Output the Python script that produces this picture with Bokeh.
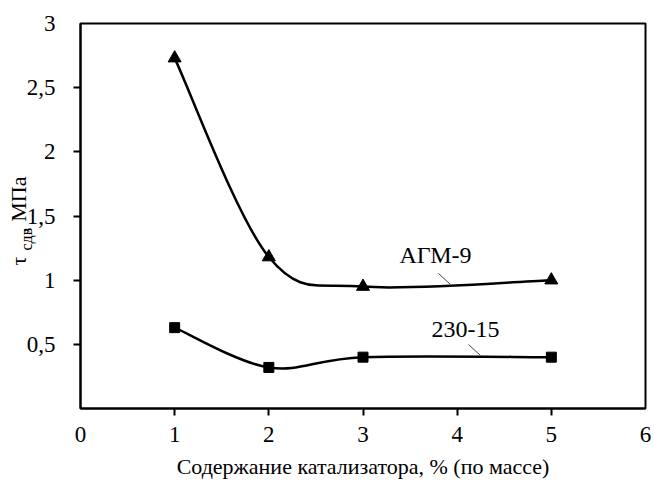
import numpy as np
from bokeh.plotting import figure
from bokeh.models import FixedTicker, CustomJSTickFormatter, Label, Range1d, Title
from bokeh.embed import file_html
from bokeh.resources import INLINE

# ---- data ----
catalyst = [1, 2, 3, 5]
agm9 = [2.73, 1.18, 0.95, 1.00]
s230_15 = [0.63, 0.32, 0.40, 0.40]
x_labels_at = [0, 1, 2, 3, 4, 5, 6]
x_tick_marks = [1, 2, 3, 4, 5]
y_labels_at = [0.5, 1.0, 1.5, 2.0, 2.5, 3.0]
y_tick_marks = [0.5, 1.0, 1.5, 2.0, 2.5]
series_names = ["АГМ-9", "230-15"]

FONT = "Liberation Serif"
FS = "23px"

ML, MR, MT, MB = 80, 9, 23, 72
FW, FH = 565, 385

p = figure(frame_width=FW, frame_height=FH, output_backend="svg",
           toolbar_location=None,
           x_range=Range1d(0, 6), y_range=Range1d(0, 3),
           min_border_left=ML, min_border_right=MR, min_border_top=MT,
           min_border_bottom=MB)
p.background_fill_color = "white"
p.border_fill_color = "white"
p.grid.visible = False
p.outline_line_color = "black"
p.outline_line_width = 2

# pixel helpers (relative to the frame) for annotation placement
sx = 6.0 / FW
sy = 3.0 / FH


def px(xs):
    return (xs - ML) * sx


def py(ys):
    return ((MT + FH) - ys) * sy


def smooth(xv, yv):
    xv = np.asarray(xv, float)
    yv = np.asarray(yv, float)
    n = len(xv)
    X = np.concatenate([[xv[0]], xv, [xv[-1]]])
    Y = np.concatenate([[yv[0]], yv, [yv[-1]]])
    d = dict(x0=[], y0=[], x1=[], y1=[], cx0=[], cy0=[], cx1=[], cy1=[])
    for i in range(n - 1):
        p0x, p0y = X[i], Y[i]
        p1x, p1y = X[i + 1], Y[i + 1]
        p2x, p2y = X[i + 2], Y[i + 2]
        p3x, p3y = X[i + 3], Y[i + 3]
        d["x0"].append(p1x); d["y0"].append(p1y)
        d["x1"].append(p2x); d["y1"].append(p2y)
        d["cx0"].append(p1x + (p2x - p0x) / 6); d["cy0"].append(p1y + (p2y - p0y) / 6)
        d["cx1"].append(p2x - (p3x - p1x) / 6); d["cy1"].append(p2y - (p3y - p1y) / 6)
    return d


for ys, mk, sz in [(agm9, "triangle", 13), (s230_15, "square", 10)]:
    d = smooth(catalyst, ys)
    p.bezier(x0=d["x0"], y0=d["y0"], x1=d["x1"], y1=d["y1"],
             cx0=d["cx0"], cy0=d["cy0"], cx1=d["cx1"], cy1=d["cy1"],
             line_color="black", line_width=2.5)
    p.scatter(catalyst, ys, marker=mk, size=sz, fill_color="black",
              line_color="black")

fmt_y = CustomJSTickFormatter(code="return String(tick).replace('.', ',');")

for ax in (p.xaxis[0], p.yaxis[0]):
    ax.axis_line_width = 2
    ax.axis_line_color = "black"
    ax.major_tick_in = 0
    ax.major_tick_out = 0
    ax.minor_tick_line_width = 2
    ax.minor_tick_line_color = "black"
    ax.minor_tick_in = 0
    ax.minor_tick_out = 7
    ax.major_label_text_font = FONT
    ax.major_label_text_font_size = FS
    ax.major_label_text_color = "black"

p.xaxis[0].formatter = fmt_y
p.yaxis[0].formatter = fmt_y
p.xaxis[0].ticker = FixedTicker(ticks=x_labels_at, minor_ticks=x_tick_marks)
p.yaxis[0].ticker = FixedTicker(ticks=y_labels_at, minor_ticks=y_tick_marks)
p.xaxis[0].major_label_standoff = 11
p.yaxis[0].major_label_standoff = 18
p.xaxis[0].axis_label = "Содержание катализатора, % (по массе)"
p.xaxis[0].axis_label_text_font = FONT
p.xaxis[0].axis_label_text_font_size = "22px"
p.xaxis[0].axis_label_text_font_style = "normal"
p.xaxis[0].axis_label_text_color = "black"
p.xaxis[0].axis_label_standoff = 9

# y-axis title: subscript part first (nearest the axis), main part after
frame_bottom = MT + FH
sub = Title(text="сдв", text_font=FONT, text_font_size="16px",
            text_font_style="normal", text_color="black", align="left",
            vertical_align="bottom", offset=frame_bottom - 250, standoff=-23)
main = Title(text="τ\u2003\u200a, МПа", text_font=FONT, text_font_size="22px",
             text_font_style="normal", text_color="black", align="left",
             vertical_align="bottom", offset=frame_bottom - 265, standoff=-14)
p.add_layout(sub, "left")
p.add_layout(main, "left")


def lab(text, x, y, size=FS, align="center", baseline="middle"):
    p.add_layout(Label(x=x, y=y, text=text, text_font=FONT, text_font_size=size,
                       text_color="black", text_align=align,
                       text_baseline=baseline))

# series labels with leaders
lab(series_names[0], px(435), py(254), size="24px")
lab(series_names[1], px(465), py(329), size="24px")
p.segment(x0=[px(438), px(468)], y0=[py(273), py(344)],
          x1=[px(450), px(480)], y1=[py(284), py(355)],
          line_color="#444444", line_width=1)

open("out.html", "w").write(file_html(p, INLINE))
